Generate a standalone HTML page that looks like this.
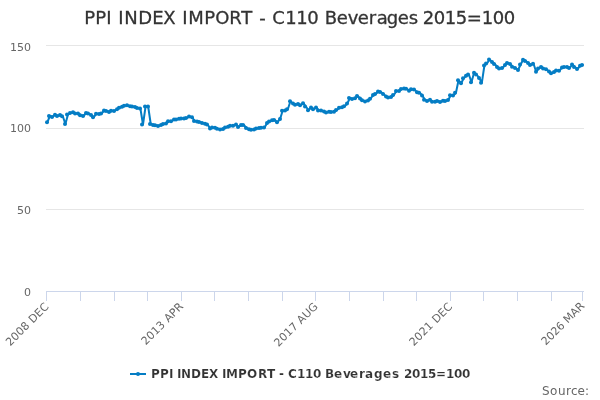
<!DOCTYPE html>
<html><head><meta charset="utf-8"><title>PPI INDEX IMPORT - C110 Beverages 2015=100</title>
<style>
html,body{margin:0;padding:0;background:#fff;}
body{width:600px;height:400px;overflow:hidden;}
svg{display:block;font-family:"DejaVu Sans","Liberation Sans",Verdana,Arial,Helvetica,sans-serif;}
</style></head><body>
<svg width="600" height="400" viewBox="0 0 600 400">
<rect x="0" y="0" width="600" height="400" fill="#ffffff"/>
<g stroke="#e6e6e6" stroke-width="1" fill="none" shape-rendering="crispEdges">
<path d="M 46 45.5 L 584 45.5"/>
<path d="M 46 128.5 L 584 128.5"/>
<path d="M 46 209.5 L 584 209.5"/>
</g>
<g stroke="#ccd6eb" stroke-width="1" fill="none" shape-rendering="crispEdges">
<path d="M 46 291.5 L 584 291.5"/>
<path d="M 46.5 291 L 46.5 301"/><path d="M 80.5 291 L 80.5 301"/><path d="M 114.5 291 L 114.5 301"/><path d="M 147.5 291 L 147.5 301"/><path d="M 181.5 291 L 181.5 301"/><path d="M 214.5 291 L 214.5 301"/><path d="M 248.5 291 L 248.5 301"/><path d="M 282.5 291 L 282.5 301"/><path d="M 315.5 291 L 315.5 301"/><path d="M 349.5 291 L 349.5 301"/><path d="M 383.5 291 L 383.5 301"/><path d="M 416.5 291 L 416.5 301"/><path d="M 450.5 291 L 450.5 301"/><path d="M 483.5 291 L 483.5 301"/><path d="M 517.5 291 L 517.5 301"/><path d="M 551.5 291 L 551.5 301"/><path d="M 582.5 291 L 582.5 301"/>
</g>
<path d="M 47.29 122.30 L 49.88 116.00 L 52.46 117.00 L 55.05 114.80 L 57.64 116.00 L 60.22 115.00 L 62.81 116.30 L 65.40 124.00 L 67.98 114.50 L 70.57 113.00 L 73.16 112.20 L 75.74 113.50 L 78.33 113.50 L 80.91 115.20 L 83.50 116.00 L 86.09 113.00 L 88.67 113.50 L 91.26 115.00 L 93.85 117.20 L 96.43 113.70 L 99.02 114.00 L 101.61 113.50 L 104.19 110.50 L 106.78 111.00 L 109.37 112.00 L 111.95 110.80 L 114.54 111.00 L 117.13 109.20 L 119.71 107.80 L 122.30 106.80 L 124.88 105.80 L 127.47 105.30 L 130.06 106.20 L 132.64 106.50 L 135.23 107.00 L 137.82 108.00 L 140.40 108.50 L 142.99 124.50 L 145.58 106.50 L 148.16 106.50 L 150.75 124.00 L 153.34 125.00 L 155.92 125.20 L 158.51 126.00 L 161.10 125.00 L 163.68 124.00 L 166.27 123.50 L 168.86 121.30 L 171.44 121.30 L 174.03 119.50 L 176.61 119.50 L 179.20 118.80 L 181.79 118.50 L 184.37 118.50 L 186.96 118.00 L 189.55 116.50 L 192.13 117.20 L 194.72 121.00 L 197.31 121.50 L 199.89 122.00 L 202.48 123.00 L 205.07 123.80 L 207.65 124.50 L 210.24 128.50 L 212.83 127.50 L 215.41 127.80 L 218.00 128.70 L 220.59 129.50 L 223.17 129.00 L 225.76 127.50 L 228.34 126.80 L 230.93 125.80 L 233.52 125.80 L 236.10 124.50 L 238.69 127.00 L 241.28 125.00 L 243.86 125.00 L 246.45 128.00 L 249.04 129.20 L 251.62 129.80 L 254.21 129.50 L 256.80 128.50 L 259.38 128.00 L 261.97 127.80 L 264.56 127.50 L 267.14 123.00 L 269.73 121.50 L 272.32 120.30 L 274.90 120.00 L 277.49 122.20 L 280.07 119.00 L 282.66 110.80 L 285.25 110.50 L 287.83 109.20 L 290.42 101.20 L 293.01 103.50 L 295.59 104.80 L 298.18 104.00 L 300.77 105.20 L 303.35 103.20 L 305.94 106.50 L 308.53 110.20 L 311.11 107.50 L 313.70 109.30 L 316.29 107.50 L 318.87 110.50 L 321.46 110.50 L 324.05 111.50 L 326.63 112.50 L 329.22 111.80 L 331.81 112.00 L 334.39 111.80 L 336.98 110.00 L 339.56 107.80 L 342.15 107.20 L 344.74 106.20 L 347.32 103.50 L 349.91 98.00 L 352.50 99.00 L 355.08 98.30 L 357.67 96.00 L 360.26 98.50 L 362.84 100.30 L 365.43 101.40 L 368.02 100.50 L 370.60 98.80 L 373.19 95.00 L 375.78 94.00 L 378.36 91.50 L 380.95 92.00 L 383.54 94.00 L 386.12 96.50 L 388.71 97.50 L 391.29 97.00 L 393.88 95.00 L 396.47 91.00 L 399.05 91.00 L 401.64 89.00 L 404.23 88.50 L 406.81 88.80 L 409.40 90.70 L 411.99 89.30 L 414.57 89.60 L 417.16 92.20 L 419.75 92.80 L 422.33 95.50 L 424.92 99.80 L 427.51 101.00 L 430.09 99.80 L 432.68 101.80 L 435.27 101.80 L 437.85 101.00 L 440.44 102.00 L 443.02 100.80 L 445.61 101.00 L 448.20 100.00 L 450.78 95.20 L 453.37 95.50 L 455.96 92.80 L 458.54 80.20 L 461.13 83.30 L 463.72 78.30 L 466.30 75.80 L 468.89 74.50 L 471.48 82.20 L 474.06 72.80 L 476.65 74.50 L 479.24 78.00 L 481.82 82.80 L 484.41 65.50 L 487.00 63.50 L 489.58 59.50 L 492.17 62.00 L 494.75 64.00 L 497.34 67.00 L 499.93 68.60 L 502.51 68.00 L 505.10 65.00 L 507.69 63.00 L 510.27 64.10 L 512.86 66.80 L 515.45 68.00 L 518.03 70.00 L 520.62 64.50 L 523.21 59.80 L 525.79 61.00 L 528.38 63.00 L 530.97 65.00 L 533.55 63.80 L 536.14 71.80 L 538.73 68.50 L 541.31 66.90 L 543.90 68.50 L 546.48 69.20 L 549.07 71.50 L 551.66 73.30 L 554.24 72.00 L 556.83 70.50 L 559.42 70.80 L 562.00 67.50 L 564.59 67.00 L 567.18 67.00 L 569.76 68.00 L 572.35 64.50 L 574.94 67.00 L 577.52 69.00 L 580.11 65.80 L 582.70 65.00" fill="none" stroke="#047dc4" stroke-width="2" stroke-linejoin="round" stroke-linecap="round"/>
<g fill="#047dc4"><circle cx="47" cy="122.30" r="2"/><circle cx="49" cy="116.00" r="2"/><circle cx="52" cy="117.00" r="2"/><circle cx="55" cy="114.80" r="2"/><circle cx="57" cy="116.00" r="2"/><circle cx="60" cy="115.00" r="2"/><circle cx="62" cy="116.30" r="2"/><circle cx="65" cy="124.00" r="2"/><circle cx="67" cy="114.50" r="2"/><circle cx="70" cy="113.00" r="2"/><circle cx="73" cy="112.20" r="2"/><circle cx="75" cy="113.50" r="2"/><circle cx="78" cy="113.50" r="2"/><circle cx="80" cy="115.20" r="2"/><circle cx="83" cy="116.00" r="2"/><circle cx="86" cy="113.00" r="2"/><circle cx="88" cy="113.50" r="2"/><circle cx="91" cy="115.00" r="2"/><circle cx="93" cy="117.20" r="2"/><circle cx="96" cy="113.70" r="2"/><circle cx="99" cy="114.00" r="2"/><circle cx="101" cy="113.50" r="2"/><circle cx="104" cy="110.50" r="2"/><circle cx="106" cy="111.00" r="2"/><circle cx="109" cy="112.00" r="2"/><circle cx="111" cy="110.80" r="2"/><circle cx="114" cy="111.00" r="2"/><circle cx="117" cy="109.20" r="2"/><circle cx="119" cy="107.80" r="2"/><circle cx="122" cy="106.80" r="2"/><circle cx="124" cy="105.80" r="2"/><circle cx="127" cy="105.30" r="2"/><circle cx="130" cy="106.20" r="2"/><circle cx="132" cy="106.50" r="2"/><circle cx="135" cy="107.00" r="2"/><circle cx="137" cy="108.00" r="2"/><circle cx="140" cy="108.50" r="2"/><circle cx="142" cy="124.50" r="2"/><circle cx="145" cy="106.50" r="2"/><circle cx="148" cy="106.50" r="2"/><circle cx="150" cy="124.00" r="2"/><circle cx="153" cy="125.00" r="2"/><circle cx="155" cy="125.20" r="2"/><circle cx="158" cy="126.00" r="2"/><circle cx="161" cy="125.00" r="2"/><circle cx="163" cy="124.00" r="2"/><circle cx="166" cy="123.50" r="2"/><circle cx="168" cy="121.30" r="2"/><circle cx="171" cy="121.30" r="2"/><circle cx="174" cy="119.50" r="2"/><circle cx="176" cy="119.50" r="2"/><circle cx="179" cy="118.80" r="2"/><circle cx="181" cy="118.50" r="2"/><circle cx="184" cy="118.50" r="2"/><circle cx="186" cy="118.00" r="2"/><circle cx="189" cy="116.50" r="2"/><circle cx="192" cy="117.20" r="2"/><circle cx="194" cy="121.00" r="2"/><circle cx="197" cy="121.50" r="2"/><circle cx="199" cy="122.00" r="2"/><circle cx="202" cy="123.00" r="2"/><circle cx="205" cy="123.80" r="2"/><circle cx="207" cy="124.50" r="2"/><circle cx="210" cy="128.50" r="2"/><circle cx="212" cy="127.50" r="2"/><circle cx="215" cy="127.80" r="2"/><circle cx="217" cy="128.70" r="2"/><circle cx="220" cy="129.50" r="2"/><circle cx="223" cy="129.00" r="2"/><circle cx="225" cy="127.50" r="2"/><circle cx="228" cy="126.80" r="2"/><circle cx="230" cy="125.80" r="2"/><circle cx="233" cy="125.80" r="2"/><circle cx="236" cy="124.50" r="2"/><circle cx="238" cy="127.00" r="2"/><circle cx="241" cy="125.00" r="2"/><circle cx="243" cy="125.00" r="2"/><circle cx="246" cy="128.00" r="2"/><circle cx="249" cy="129.20" r="2"/><circle cx="251" cy="129.80" r="2"/><circle cx="254" cy="129.50" r="2"/><circle cx="256" cy="128.50" r="2"/><circle cx="259" cy="128.00" r="2"/><circle cx="261" cy="127.80" r="2"/><circle cx="264" cy="127.50" r="2"/><circle cx="267" cy="123.00" r="2"/><circle cx="269" cy="121.50" r="2"/><circle cx="272" cy="120.30" r="2"/><circle cx="274" cy="120.00" r="2"/><circle cx="277" cy="122.20" r="2"/><circle cx="280" cy="119.00" r="2"/><circle cx="282" cy="110.80" r="2"/><circle cx="285" cy="110.50" r="2"/><circle cx="287" cy="109.20" r="2"/><circle cx="290" cy="101.20" r="2"/><circle cx="293" cy="103.50" r="2"/><circle cx="295" cy="104.80" r="2"/><circle cx="298" cy="104.00" r="2"/><circle cx="300" cy="105.20" r="2"/><circle cx="303" cy="103.20" r="2"/><circle cx="305" cy="106.50" r="2"/><circle cx="308" cy="110.20" r="2"/><circle cx="311" cy="107.50" r="2"/><circle cx="313" cy="109.30" r="2"/><circle cx="316" cy="107.50" r="2"/><circle cx="318" cy="110.50" r="2"/><circle cx="321" cy="110.50" r="2"/><circle cx="324" cy="111.50" r="2"/><circle cx="326" cy="112.50" r="2"/><circle cx="329" cy="111.80" r="2"/><circle cx="331" cy="112.00" r="2"/><circle cx="334" cy="111.80" r="2"/><circle cx="336" cy="110.00" r="2"/><circle cx="339" cy="107.80" r="2"/><circle cx="342" cy="107.20" r="2"/><circle cx="344" cy="106.20" r="2"/><circle cx="347" cy="103.50" r="2"/><circle cx="349" cy="98.00" r="2"/><circle cx="352" cy="99.00" r="2"/><circle cx="355" cy="98.30" r="2"/><circle cx="357" cy="96.00" r="2"/><circle cx="360" cy="98.50" r="2"/><circle cx="362" cy="100.30" r="2"/><circle cx="365" cy="101.40" r="2"/><circle cx="368" cy="100.50" r="2"/><circle cx="370" cy="98.80" r="2"/><circle cx="373" cy="95.00" r="2"/><circle cx="375" cy="94.00" r="2"/><circle cx="378" cy="91.50" r="2"/><circle cx="380" cy="92.00" r="2"/><circle cx="383" cy="94.00" r="2"/><circle cx="386" cy="96.50" r="2"/><circle cx="388" cy="97.50" r="2"/><circle cx="391" cy="97.00" r="2"/><circle cx="393" cy="95.00" r="2"/><circle cx="396" cy="91.00" r="2"/><circle cx="399" cy="91.00" r="2"/><circle cx="401" cy="89.00" r="2"/><circle cx="404" cy="88.50" r="2"/><circle cx="406" cy="88.80" r="2"/><circle cx="409" cy="90.70" r="2"/><circle cx="411" cy="89.30" r="2"/><circle cx="414" cy="89.60" r="2"/><circle cx="417" cy="92.20" r="2"/><circle cx="419" cy="92.80" r="2"/><circle cx="422" cy="95.50" r="2"/><circle cx="424" cy="99.80" r="2"/><circle cx="427" cy="101.00" r="2"/><circle cx="430" cy="99.80" r="2"/><circle cx="432" cy="101.80" r="2"/><circle cx="435" cy="101.80" r="2"/><circle cx="437" cy="101.00" r="2"/><circle cx="440" cy="102.00" r="2"/><circle cx="443" cy="100.80" r="2"/><circle cx="445" cy="101.00" r="2"/><circle cx="448" cy="100.00" r="2"/><circle cx="450" cy="95.20" r="2"/><circle cx="453" cy="95.50" r="2"/><circle cx="455" cy="92.80" r="2"/><circle cx="458" cy="80.20" r="2"/><circle cx="461" cy="83.30" r="2"/><circle cx="463" cy="78.30" r="2"/><circle cx="466" cy="75.80" r="2"/><circle cx="468" cy="74.50" r="2"/><circle cx="471" cy="82.20" r="2"/><circle cx="474" cy="72.80" r="2"/><circle cx="476" cy="74.50" r="2"/><circle cx="479" cy="78.00" r="2"/><circle cx="481" cy="82.80" r="2"/><circle cx="484" cy="65.50" r="2"/><circle cx="486" cy="63.50" r="2"/><circle cx="489" cy="59.50" r="2"/><circle cx="492" cy="62.00" r="2"/><circle cx="494" cy="64.00" r="2"/><circle cx="497" cy="67.00" r="2"/><circle cx="499" cy="68.60" r="2"/><circle cx="502" cy="68.00" r="2"/><circle cx="505" cy="65.00" r="2"/><circle cx="507" cy="63.00" r="2"/><circle cx="510" cy="64.10" r="2"/><circle cx="512" cy="66.80" r="2"/><circle cx="515" cy="68.00" r="2"/><circle cx="518" cy="70.00" r="2"/><circle cx="520" cy="64.50" r="2"/><circle cx="523" cy="59.80" r="2"/><circle cx="525" cy="61.00" r="2"/><circle cx="528" cy="63.00" r="2"/><circle cx="530" cy="65.00" r="2"/><circle cx="533" cy="63.80" r="2"/><circle cx="536" cy="71.80" r="2"/><circle cx="538" cy="68.50" r="2"/><circle cx="541" cy="66.90" r="2"/><circle cx="543" cy="68.50" r="2"/><circle cx="546" cy="69.20" r="2"/><circle cx="549" cy="71.50" r="2"/><circle cx="551" cy="73.30" r="2"/><circle cx="554" cy="72.00" r="2"/><circle cx="556" cy="70.50" r="2"/><circle cx="559" cy="70.80" r="2"/><circle cx="562" cy="67.50" r="2"/><circle cx="564" cy="67.00" r="2"/><circle cx="567" cy="67.00" r="2"/><circle cx="569" cy="68.00" r="2"/><circle cx="572" cy="64.50" r="2"/><circle cx="574" cy="67.00" r="2"/><circle cx="577" cy="69.00" r="2"/><circle cx="580" cy="65.80" r="2"/><circle cx="582" cy="65.00" r="2"/></g>
<text x="84.24 95.24 106.24 112.24 118.24 124.24 138.24 152.24 163.24 176.24 182.24 188.24 204.24 215.24 229.24 241.24 253.24 259.24 266.24 272.24 285.24 296.24 307.24 318.24 324.74 336.74 347.74 357.74 368.74 376.74 386.74 397.74 408.74 416.74 422.74 433.74 444.74 455.74 466.74 481.74 492.74 503.74" y="24" font-size="18px" fill="#333333" stroke="#333333" stroke-width="0.3">PPI INDEX IMPORT - C110 Beverages 2015=100</text>
<g font-size="11px" fill="#666666" text-anchor="end">
<text x="31" y="51">150</text>
<text x="31" y="132">100</text>
<text x="31" y="214">50</text>
<text x="31" y="296">0</text>
</g>
<g font-size="11px" fill="#666666"><text transform="translate(49.59,307.10) rotate(-45)" text-anchor="end" letter-spacing="0.13">2008 DEC</text><text transform="translate(184.09,307.10) rotate(-45)" text-anchor="end" letter-spacing="0.13">2013 APR</text><text transform="translate(318.59,307.10) rotate(-45)" text-anchor="end" letter-spacing="0.13">2017 AUG</text><text transform="translate(453.08,307.10) rotate(-45)" text-anchor="end" letter-spacing="0.13">2021 DEC</text><text transform="translate(585.00,306.60) rotate(-45)" text-anchor="end" letter-spacing="-0.08">2026 MAR</text></g>
<g>
<path d="M 130 374 L 146 374" stroke="#047dc4" stroke-width="2" fill="none"/>
<circle cx="138" cy="374" r="2" fill="#047dc4"/>
<text x="151 160 169 173 177 181 191 201 209 218 222 226 238 247 258 267 275 279 284 288 297 305 313 321 325 334 343 350 359 365 374 383 392 400 404 412 420 428 436 446 454 462" y="378" font-size="12px" font-weight="bold" fill="#333333" stroke="#ffffff" stroke-width="0.15">PPI INDEX IMPORT - C110 Beverages 2015=100</text>
</g>
<text x="542 550 558 566 571 577.5 585" y="395" font-size="12px" fill="#666666">Source:</text>
</svg>
</body></html>
